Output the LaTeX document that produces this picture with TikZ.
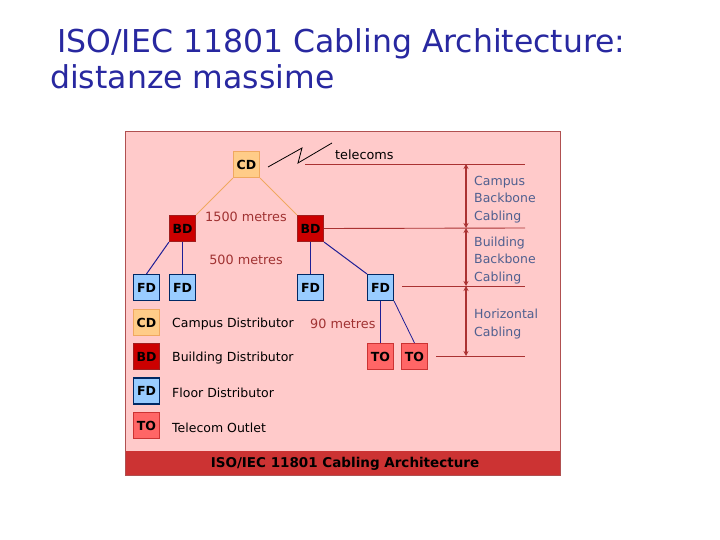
\documentclass[tikz,border=0pt]{standalone}
\usepackage{fontspec}
\setmainfont{DejaVu Sans}
\usetikzlibrary{arrows.meta}
\definecolor{bgpink}{RGB}{255,202,202}
\definecolor{frame}{RGB}{176,80,80}
\definecolor{cdfill}{RGB}{255,204,136}
\definecolor{cdline}{RGB}{240,168,96}
\definecolor{bdfill}{RGB}{204,0,0}
\definecolor{bdline}{RGB}{160,30,30}
\definecolor{fdfill}{RGB}{153,204,255}
\definecolor{fdline}{RGB}{0,40,100}
\definecolor{tofill}{RGB}{255,102,102}
\definecolor{toline}{RGB}{204,51,51}
\definecolor{bluewire}{RGB}{30,30,150}
\definecolor{redline}{RGB}{170,50,50}
\definecolor{metres}{RGB}{160,50,50}
\definecolor{lblue}{RGB}{80,96,144}
\definecolor{barred}{RGB}{204,51,51}
\definecolor{titleblue}{RGB}{40,40,160}
\tikzset{
  box/.style={draw, minimum size=26pt, inner sep=0pt, line width=1.1pt, font=\bfseries\fontsize{12.5}{12}\selectfont},
  cdbox/.style={box, fill=cdfill, draw=cdline},
  bdbox/.style={box, fill=bdfill, draw=bdline},
  fdbox/.style={box, fill=fdfill, draw=fdline},
  tobox/.style={box, fill=tofill, draw=toline},
  legend/.style={anchor=west, font=\fontsize{12.5}{14}\selectfont},
  mtext/.style={font=\fontsize{12.8}{14}\selectfont, text=metres},
  rlabel/.style={anchor=west, font=\fontsize{12.5}{17.5}\selectfont, text=lblue, align=left},
  bwire/.style={draw=bluewire, line width=1pt},
  owire/.style={draw=cdline, line width=0.8pt},
  rline/.style={draw=redline, line width=0.9pt},
  dim/.style={draw=redline, line width=1.6pt, {Stealth[length=5pt,width=5pt]}-{Stealth[length=5pt,width=5pt]}},
}
\begin{document}
\begin{tikzpicture}[x=1pt,y=-1pt]
\useasboundingbox (0,0) rectangle (720,540);
% title
\node[anchor=base west, font=\fontsize{31.5}{36}\selectfont, text=titleblue, inner sep=0] (t1) at (57,53) {ISO/IEC 11801 Cabling Architecture:};
\node[anchor=base west, font=\fontsize{31.5}{36}\selectfont, text=titleblue, inner sep=0] (t2) at (50,89) {distanze massime};
% panel
\draw[draw=frame, fill=bgpink, line width=0.8pt] (125.5,131.5) rectangle (560.5,475.5);
\fill[barred] (126,451) rectangle (560,475);
\node[font=\bfseries\fontsize{13.5}{14}\selectfont] (bar) at (345,464) {ISO/IEC 11801 Cabling Architecture};
% tree nodes
\node[cdbox] (CD) at (246.5,164.5) {CD};
\node[bdbox] (BDl) at (182.5,228.5) {BD};
\node[bdbox] (BDr) at (310.5,228.5) {BD};
\node[fdbox] (FD1) at (146.5,287.5) {FD};
\node[fdbox] (FD2) at (182.5,287.5) {FD};
\node[fdbox] (FD3) at (310.5,287.5) {FD};
\node[fdbox] (FD4) at (380.5,287.5) {FD};
\node[tobox] (TO1) at (380.5,356.5) {TO};
\node[tobox] (TO2) at (414.5,356.5) {TO};
% connectors
\draw[owire] (CD.south west) -- (BDl.north east);
\draw[owire] (CD.south east) -- (BDr.north west);
\draw[bwire] (BDl.south west) -- (FD1.north);
\draw[bwire] (BDl.south) -- (FD2.north);
\draw[bwire] (BDr.south) -- (FD3.north);
\draw[bwire] (BDr.south east) -- (FD4.north west);
\draw[bwire] (FD4.south) -- (TO1.north);
\draw[bwire, line width=0.8pt] (FD4.south east) -- (TO2.north);
% telecoms link
\coordinate (z1) at (268,167);
\coordinate (z2) at (302,148);
\coordinate (z3) at (298,163);
\coordinate (z4) at (332,143);
\draw[line width=0.8pt] (z1) -- (z2) -- (z3) -- (z4);
\node[anchor=west, font=\fontsize{12.8}{14}\selectfont, inner sep=1pt] (tel) at (334,155) {telecoms};
% level lines
\coordinate (l1a) at (305,164); \coordinate (l1b) at (525,164);
\coordinate (l2b) at (525,228);
\coordinate (l3a) at (402,286); \coordinate (l3b) at (525,286);
\coordinate (l4a) at (436,356); \coordinate (l4b) at (525,356);
\draw[rline] (l1a) -- (l1b);
\draw[rline] (BDr.east) -- (l2b);
\draw[rline] (l3a) -- (l3b);
\draw[rline] (l4a) -- (l4b);
% dimension arrows
\coordinate (d1) at (466,164);
\coordinate (d2) at (466,228);
\coordinate (d3) at (466,286);
\coordinate (d4) at (466,356);
\draw[dim] (d1) -- (d2);
\draw[dim] (d2) -- (d3);
\draw[dim] (d3) -- (d4);
\node[rlabel, inner sep=1pt] (r1) at (473,199.5) {Campus\\Backbone\\Cabling};
\node[rlabel, inner sep=1pt] (r2) at (473,260.5) {Building\\Backbone\\Cabling};
\node[rlabel, inner sep=1pt] (r3) at (473,324) {Horizontal\\Cabling};
% distances
\node[mtext] (m1) at (246,217) {1500 metres};
\node[mtext] (m2) at (246,260) {500 metres};
\node[mtext, anchor=west, inner sep=1pt] (m3) at (309,324) {90 metres};
% legend
\node[cdbox] (LCD) at (146.5,322.5) {CD};
\node[bdbox] (LBD) at (146.5,356.5) {BD};
\node[fdbox] (LFD) at (146.5,391) {FD};
\node[tobox] (LTO) at (146.5,425.5) {TO};
\node[legend, inner sep=1pt] (tCD) at (171,324) {Campus Distributor};
\node[legend, inner sep=1pt] (tBD) at (171,358) {Building Distributor};
\node[legend, inner sep=1pt] (tFD) at (171,393) {Floor Distributor};
\node[legend, inner sep=1pt] (tTO) at (171,428) {Telecom Outlet};
\end{tikzpicture}
\end{document}
